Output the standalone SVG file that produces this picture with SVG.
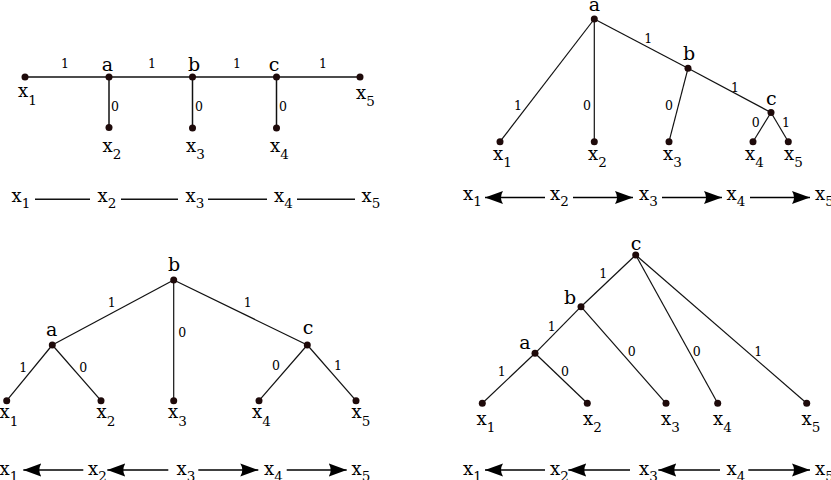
<svg xmlns="http://www.w3.org/2000/svg" width="831" height="480" viewBox="0 0 831 480">
<style>
.e{stroke:#111;stroke-width:1.2;fill:none}
.h{stroke:#111;stroke-width:1.5;fill:none}
.ar{stroke:#000;stroke-width:1.6;fill:none;marker-end:url(#ah)}
.d{fill:#1e0a0a}
.n{font-family:"DejaVu Serif",serif;font-size:19px;fill:#000;text-anchor:middle}
.x{font-family:"DejaVu Serif",serif;font-size:18px;fill:#000}
.s{font-size:13.5px}
.w{font-family:"DejaVu Serif",serif;font-size:12.5px;fill:#000;text-anchor:middle}
</style>
<defs>
<marker id="ah" markerUnits="userSpaceOnUse" markerWidth="20" markerHeight="16" viewBox="0 -8 20 16" refX="18" refY="0" orient="auto">
<path d="M18,0 L0,-6.5 Q4,0 0,6.5 Z" fill="#000"/>
</marker>
</defs>
<rect width="831" height="480" fill="#fff"/>

<!-- Panel 1 -->
<g id="p1-connectors">
<line class="h" x1="25" y1="77" x2="109" y2="77"/>
<line class="h" x1="109" y1="77" x2="192.5" y2="77"/>
<line class="h" x1="192.5" y1="77" x2="276.5" y2="77"/>
<line class="h" x1="276.5" y1="77" x2="360" y2="77"/>
<line class="h" x1="109" y1="77" x2="109" y2="127.5"/>
<line class="h" x1="192.5" y1="77" x2="192.5" y2="128"/>
<line class="h" x1="276.5" y1="77" x2="276.5" y2="128"/>
<text class="w" x="65" y="68">1</text>
<text class="w" x="152" y="68">1</text>
<text class="w" x="237" y="68">1</text>
<text class="w" x="323" y="68">1</text>
<text class="w" x="115" y="111">0</text>
<text class="w" x="199" y="111">0</text>
<text class="w" x="283" y="111">0</text>
<line class="h" x1="35" y1="199.3" x2="90" y2="199.3"/>
<line class="h" x1="121" y1="199.3" x2="178" y2="199.3"/>
<line class="h" x1="208" y1="199.3" x2="267" y2="199.3"/>
<line class="h" x1="297" y1="199.3" x2="355" y2="199.3"/>
</g>
<g id="p1-a"><circle class="d" cx="109" cy="77" r="3.5"/><text class="n" x="107.5" y="70.5">a</text></g>
<g id="p1-b"><circle class="d" cx="192.5" cy="77" r="3.5"/><text class="n" x="194" y="70.5">b</text></g>
<g id="p1-c"><circle class="d" cx="276.5" cy="77" r="3.5"/><text class="n" x="274" y="70.5">c</text></g>
<g id="p1-x1"><circle class="d" cx="25" cy="77" r="3.5"/><text class="x" x="18" y="97">x<tspan class="s" dy="7.5">1</tspan></text></g>
<g id="p1-x2"><circle class="d" cx="109" cy="127.5" r="3.5"/><text class="x" x="102.5" y="151.5">x<tspan class="s" dy="7">2</tspan></text></g>
<g id="p1-x3"><circle class="d" cx="192.5" cy="128" r="3.5"/><text class="x" x="186" y="152">x<tspan class="s" dy="7">3</tspan></text></g>
<g id="p1-x4"><circle class="d" cx="276.5" cy="128" r="3.5"/><text class="x" x="270" y="152">x<tspan class="s" dy="7">4</tspan></text></g>
<g id="p1-x5"><circle class="d" cx="360" cy="77" r="3.5"/><text class="x" x="356" y="99">x<tspan class="s" dy="7">5</tspan></text></g>
<g id="p1-row">
<text class="x" x="11.5" y="201.5">x<tspan class="s" dy="6">1</tspan></text>
<text class="x" x="97.5" y="201.5">x<tspan class="s" dy="6">2</tspan></text>
<text class="x" x="185.5" y="201.5">x<tspan class="s" dy="6">3</tspan></text>
<text class="x" x="274" y="201.5">x<tspan class="s" dy="6">4</tspan></text>
<text class="x" x="361.5" y="201.5">x<tspan class="s" dy="6">5</tspan></text>
</g>

<!-- Panel 2 -->
<g id="p2-connectors">
<line class="e" x1="594.3" y1="19" x2="500" y2="141.7"/>
<line class="e" x1="594.3" y1="19" x2="594.3" y2="141.7"/>
<line class="e" x1="594.3" y1="19" x2="688" y2="68.3"/>
<line class="e" x1="688" y1="68.3" x2="669" y2="141.7"/>
<line class="e" x1="688" y1="68.3" x2="771" y2="112.5"/>
<line class="e" x1="771" y1="112.5" x2="753" y2="141.7"/>
<line class="e" x1="771" y1="112.5" x2="788.3" y2="141.7"/>
<text class="w" x="648.3" y="43">1</text>
<text class="w" x="735" y="91.5">1</text>
<text class="w" x="518" y="110">1</text>
<text class="w" x="587" y="110">0</text>
<text class="w" x="669" y="110">0</text>
<text class="w" x="755.7" y="126.5">0</text>
<text class="w" x="786" y="126.5">1</text>
<line class="ar" x1="545" y1="197.5" x2="485" y2="197.5"/>
<line class="ar" x1="573" y1="197.5" x2="633" y2="197.5"/>
<line class="ar" x1="662" y1="197.5" x2="722" y2="197.5"/>
<line class="ar" x1="750" y1="197.5" x2="810" y2="197.5"/>
</g>
<g id="p2-a"><circle class="d" cx="594.3" cy="19" r="3.5"/><text class="n" x="594.3" y="10.5">a</text></g>
<g id="p2-b"><circle class="d" cx="688" cy="68.3" r="3.5"/><text class="n" x="689" y="60">b</text></g>
<g id="p2-c"><circle class="d" cx="771" cy="112.5" r="3.5"/><text class="n" x="771.3" y="105">c</text></g>
<g id="p2-x1"><circle class="d" cx="500" cy="141.7" r="3.5"/><text class="x" x="493" y="160">x<tspan class="s" dy="7">1</tspan></text></g>
<g id="p2-x2"><circle class="d" cx="594.3" cy="141.7" r="3.5"/><text class="x" x="588" y="160">x<tspan class="s" dy="7">2</tspan></text></g>
<g id="p2-x3"><circle class="d" cx="669" cy="141.7" r="3.5"/><text class="x" x="663" y="160">x<tspan class="s" dy="7">3</tspan></text></g>
<g id="p2-x4"><circle class="d" cx="753" cy="141.7" r="3.5"/><text class="x" x="745" y="160">x<tspan class="s" dy="7">4</tspan></text></g>
<g id="p2-x5"><circle class="d" cx="788.3" cy="141.7" r="3.5"/><text class="x" x="784" y="160">x<tspan class="s" dy="7">5</tspan></text></g>
<g id="p2-row">
<text class="x" x="463" y="200">x<tspan class="s" dy="6">1</tspan></text>
<text class="x" x="550" y="200">x<tspan class="s" dy="6">2</tspan></text>
<text class="x" x="639" y="200">x<tspan class="s" dy="6">3</tspan></text>
<text class="x" x="726.5" y="200">x<tspan class="s" dy="6">4</tspan></text>
<text class="x" x="815" y="200">x<tspan class="s" dy="6">5</tspan></text>
</g>

<!-- Panel 3 -->
<g id="p3-connectors">
<line class="e" x1="173.7" y1="280" x2="52.3" y2="345"/>
<line class="e" x1="173.7" y1="280" x2="173.7" y2="400.7"/>
<line class="e" x1="173.7" y1="280" x2="307.3" y2="345"/>
<line class="e" x1="52.3" y1="345" x2="6.7" y2="400.7"/>
<line class="e" x1="52.3" y1="345" x2="101" y2="400.7"/>
<line class="e" x1="307.3" y1="345" x2="259" y2="400.7"/>
<line class="e" x1="307.3" y1="345" x2="356" y2="400.7"/>
<text class="w" x="111.7" y="306.5">1</text>
<text class="w" x="247.7" y="306.5">1</text>
<text class="w" x="182.3" y="337">0</text>
<text class="w" x="23.3" y="372">1</text>
<text class="w" x="83.3" y="371.5">0</text>
<text class="w" x="276" y="370">0</text>
<text class="w" x="338" y="370">1</text>
<line class="ar" x1="83.3" y1="470" x2="23.3" y2="470"/>
<line class="ar" x1="168.3" y1="470" x2="107.3" y2="470"/>
<line class="ar" x1="198.3" y1="470" x2="258.3" y2="470"/>
<line class="ar" x1="286.7" y1="470" x2="346.7" y2="470"/>
</g>
<g id="p3-b"><circle class="d" cx="173.7" cy="280" r="3.5"/><text class="n" x="174" y="271">b</text></g>
<g id="p3-a"><circle class="d" cx="52.3" cy="345" r="3.5"/><text class="n" x="51.7" y="336">a</text></g>
<g id="p3-c"><circle class="d" cx="307.3" cy="345" r="3.5"/><text class="n" x="308" y="333.5">c</text></g>
<g id="p3-x1"><circle class="d" cx="6.7" cy="400.7" r="3.5"/><text class="x" x="-0.5" y="418">x<tspan class="s" dy="7.5">1</tspan></text></g>
<g id="p3-x2"><circle class="d" cx="101" cy="400.7" r="3.5"/><text class="x" x="96.5" y="418">x<tspan class="s" dy="7.5">2</tspan></text></g>
<g id="p3-x3"><circle class="d" cx="173.7" cy="400.7" r="3.5"/><text class="x" x="168" y="418">x<tspan class="s" dy="7.5">3</tspan></text></g>
<g id="p3-x4"><circle class="d" cx="259" cy="400.7" r="3.5"/><text class="x" x="252" y="418">x<tspan class="s" dy="7.5">4</tspan></text></g>
<g id="p3-x5"><circle class="d" cx="356" cy="400.7" r="3.5"/><text class="x" x="351.5" y="418">x<tspan class="s" dy="7.5">5</tspan></text></g>
<g id="p3-row">
<text class="x" x="-0.5" y="474.5">x<tspan class="s" dy="6">1</tspan></text>
<text class="x" x="88" y="474.5">x<tspan class="s" dy="6">2</tspan></text>
<text class="x" x="176.5" y="474.5">x<tspan class="s" dy="6">3</tspan></text>
<text class="x" x="264" y="474.5">x<tspan class="s" dy="6">4</tspan></text>
<text class="x" x="351.5" y="474.5">x<tspan class="s" dy="6">5</tspan></text>
</g>

<!-- Panel 4 -->
<g id="p4-connectors">
<line class="e" x1="635.7" y1="255" x2="581" y2="306.7"/>
<line class="e" x1="635.7" y1="255" x2="717.7" y2="403.3"/>
<line class="e" x1="635.7" y1="255" x2="806.7" y2="403.3"/>
<line class="e" x1="581" y1="306.7" x2="535" y2="353.3"/>
<line class="e" x1="581" y1="306.7" x2="666" y2="403.3"/>
<line class="e" x1="535" y1="353.3" x2="482.3" y2="403.3"/>
<line class="e" x1="535" y1="353.3" x2="587.3" y2="403.3"/>
<text class="w" x="603.3" y="278">1</text>
<text class="w" x="551.7" y="331">1</text>
<text class="w" x="631.7" y="355.5">0</text>
<text class="w" x="696.7" y="355.5">0</text>
<text class="w" x="758.3" y="355.5">1</text>
<text class="w" x="501.7" y="376">1</text>
<text class="w" x="565" y="376">0</text>
<line class="ar" x1="545" y1="470" x2="485" y2="470"/>
<line class="ar" x1="630" y1="470" x2="568.3" y2="470"/>
<line class="ar" x1="720" y1="470" x2="658.3" y2="470"/>
<line class="ar" x1="748.3" y1="470" x2="810" y2="470"/>
</g>
<g id="p4-c"><circle class="d" cx="635.7" cy="255" r="3.5"/><text class="n" x="636" y="249.5">c</text></g>
<g id="p4-b"><circle class="d" cx="581" cy="306.7" r="3.5"/><text class="n" x="570" y="303.5">b</text></g>
<g id="p4-a"><circle class="d" cx="535" cy="353.3" r="3.5"/><text class="n" x="525" y="348.5">a</text></g>
<g id="p4-x1"><circle class="d" cx="482.3" cy="403.3" r="3.5"/><text class="x" x="476.5" y="425">x<tspan class="s" dy="7">1</tspan></text></g>
<g id="p4-x2"><circle class="d" cx="587.3" cy="403.3" r="3.5"/><text class="x" x="583" y="425">x<tspan class="s" dy="7">2</tspan></text></g>
<g id="p4-x3"><circle class="d" cx="666" cy="403.3" r="3.5"/><text class="x" x="661" y="425">x<tspan class="s" dy="7">3</tspan></text></g>
<g id="p4-x4"><circle class="d" cx="717.7" cy="403.3" r="3.5"/><text class="x" x="713" y="425">x<tspan class="s" dy="7">4</tspan></text></g>
<g id="p4-x5"><circle class="d" cx="806.7" cy="403.3" r="3.5"/><text class="x" x="801.5" y="425">x<tspan class="s" dy="7">5</tspan></text></g>
<g id="p4-row">
<text class="x" x="463" y="474.5">x<tspan class="s" dy="6">1</tspan></text>
<text class="x" x="550" y="474.5">x<tspan class="s" dy="6">2</tspan></text>
<text class="x" x="639" y="474.5">x<tspan class="s" dy="6">3</tspan></text>
<text class="x" x="726.5" y="474.5">x<tspan class="s" dy="6">4</tspan></text>
<text class="x" x="815" y="474.5">x<tspan class="s" dy="6">5</tspan></text>
</g>
</svg>
